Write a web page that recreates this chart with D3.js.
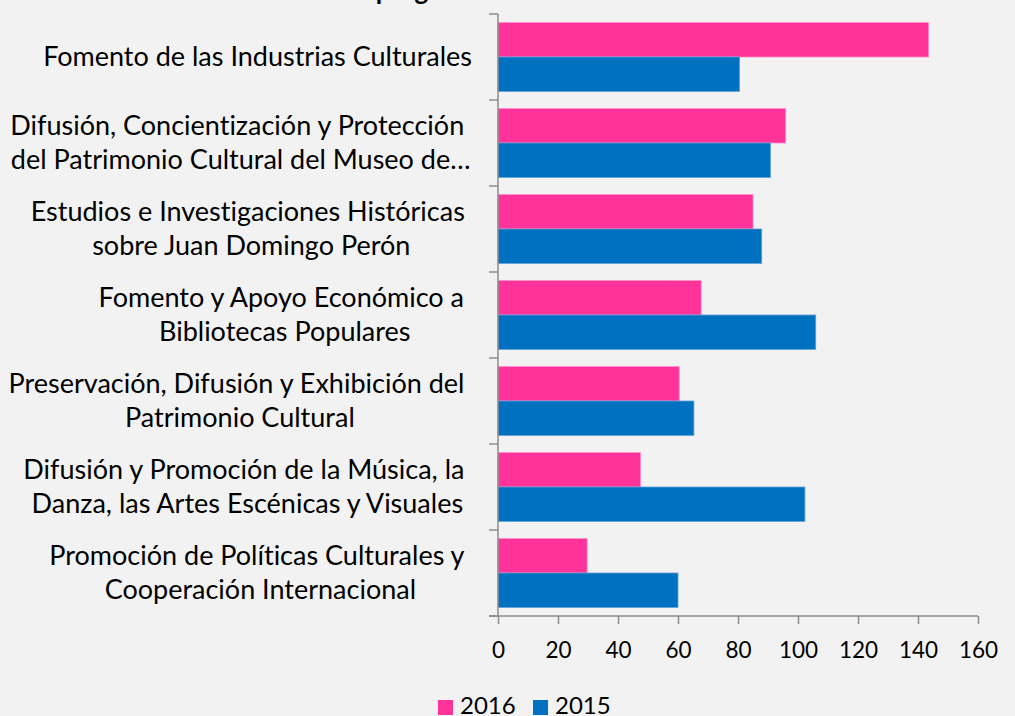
<!DOCTYPE html>
<html>
<head>
<meta charset="utf-8">
<script src="https://cdn.jsdelivr.net/npm/d3@7"></script>
<style>
  html, body { margin: 0; padding: 0; background: #f2f2f2; }
  svg { display: block; font-family: Lato, "Open Sans", sans-serif; font-variant-ligatures: none; }
</style>
</head>
<body>
<div id="graf"></div>
<script>
// datos
const categorias = [
  ["Fomento de las Industrias Culturales"],
  ["Difusión, Concientización y Protección", "del Patrimonio Cultural del Museo de…"],
  ["Estudios e Investigaciones Históricas", "sobre Juan Domingo Perón"],
  ["Fomento y Apoyo Económico a", "Bibliotecas Populares"],
  ["Preservación, Difusión y Exhibición del", "Patrimonio Cultural"],
  ["Difusión y Promoción de la Música, la", "Danza, las Artes Escénicas y Visuales"],
  ["Promoción de Políticas Culturales y", "Cooperación Internacional"],
]
const valores2016 = [143.5, 95.9, 85.0, 67.7, 60.4, 47.5, 29.7]
const valores2015 = [80.5, 90.8, 87.9, 105.9, 65.3, 102.3, 60.0]
const series = ["2016", "2015"]
const colores = ["#ff3399", "#0070c0"]
const bordes = ["#ff8cc6", "#5e9fd6"]
const ticksX = [0, 20, 40, 60, 80, 100, 120, 140, 160]
const titulo = "Crédito de cada programa"

const anchoTotal = 1015
const altoTotal = 716
const margins = { top: 14, right: 37, bottom: 100, left: 498 }
const ancho = anchoTotal - margins.left - margins.right
const alto = altoTotal - margins.top - margins.bottom

const svg = d3.select("#graf")
  .append("svg")
  .attr("width", anchoTotal)
  .attr("height", altoTotal)

svg.append("rect")
  .attr("width", anchoTotal)
  .attr("height", altoTotal)
  .attr("fill", "#f2f2f2")

// titulo (cortado arriba en la imagen original)
svg.append("text")
  .attr("x", 486)
  .attr("y", 0)
  .attr("text-anchor", "end")
  .attr("font-size", 26)
  .attr("font-weight", "bold")
  .attr("fill", "#000")
  .text(titulo)

const g = svg.append("g")
  .attr("transform", `translate(${margins.left}, ${margins.top})`)

const datos = categorias.map((c, i) => ({ lineas: c, v: [valores2016[i], valores2015[i]] }))

// Escaladores
const x = d3.scaleLinear().domain([0, 160]).range([0, ancho])
const y = d3.scaleBand()
  .domain(d3.range(categorias.length))
  .range([0, alto])
  .paddingInner(0.2)
  .paddingOuter(0.1)
const ySerie = d3.scaleBand().domain(series).range([0, y.bandwidth()])

// barras
const grupos = g.selectAll("g.cat")
  .data(datos)
  .enter()
  .append("g")
  .attr("class", "cat")
  .attr("transform", (d, i) => `translate(0, ${y(i)})`)

grupos.selectAll("rect")
  .data((d) => d.v.map((v, j) => ({ serie: series[j], v: v, j: j })))
  .enter()
  .append("rect")
  .attr("x", 0)
  .attr("y", (d) => ySerie(d.serie))
  .attr("width", (d) => x(d.v))
  .attr("height", ySerie.bandwidth())
  .attr("fill", (d) => colores[d.j])
  .attr("stroke", (d) => bordes[d.j])
  .attr("stroke-width", 0.8)

// eje X
const colorEje = "#8c8c8c"
const xAxis = d3.axisBottom(x).tickValues(ticksX).tickSize(8).tickPadding(18)
const xAxisGroup = g.append("g")
  .attr("transform", `translate(0, ${alto})`)
  .call(xAxis)
xAxisGroup.select(".domain").attr("stroke", colorEje).attr("stroke-width", 1.5)
  .attr("d", `M-9,0H${ancho}`)
xAxisGroup.selectAll(".tick line").attr("stroke", colorEje).attr("stroke-width", 1.5)
xAxisGroup.selectAll(".tick text")
  .attr("fill", "#000")
  .attr("font-size", 22.5)
  .attr("font-family", "Lato, sans-serif")

// eje Y (lineas de separacion de categorias)
const paso = y.step()
const limites = d3.range(categorias.length + 1).map((i) => i * paso)
g.append("line")
  .attr("x1", 0).attr("x2", 0)
  .attr("y1", 0).attr("y2", alto)
  .attr("stroke", colorEje).attr("stroke-width", 1.5)
g.selectAll("line.lim")
  .data(limites)
  .enter()
  .append("line")
  .attr("class", "lim")
  .attr("x1", -9).attr("x2", 0)
  .attr("y1", (d) => d).attr("y2", (d) => d)
  .attr("stroke", colorEje).attr("stroke-width", 1.5)

// etiquetas de categorias: lineas centradas en un bloque alineado a la derecha
const fuente = 27
const ctx = document.createElement("canvas").getContext("2d")
ctx.font = `${fuente}px Lato`
const interlinea = 35
const bordeDer = 472 - margins.left

grupos.each(function (d, i) {
  const anchoBloque = d3.max(d.lineas, (l, k) =>
    ctx.measureText(l + (k < d.lineas.length - 1 ? " " : "")).width)
  const centro = bordeDer - anchoBloque / 2
  const medio = y.bandwidth() / 2
  const n = d.lineas.length
  d3.select(this).selectAll("text.lbl")
    .data(d.lineas)
    .enter()
    .append("text")
    .attr("class", "lbl")
    .attr("x", (l, k) => centro + (k < n - 1 ? -ctx.measureText(" ").width / 2 : 0))
    .attr("y", (l, k) => medio + (k - (n - 1) / 2) * interlinea + 9)
    .attr("text-anchor", "middle")
    .attr("font-size", fuente)
    .attr("fill", "#000")
    .text((l) => l)
})

// leyenda
const leyenda = svg.append("g").attr("transform", "translate(438, 700)")
const itemLeyenda = leyenda.selectAll("g")
  .data(series)
  .enter()
  .append("g")
  .attr("transform", (d, i) => `translate(${i * 95}, 0)`)
itemLeyenda.append("rect")
  .attr("width", 15)
  .attr("height", 15)
  .attr("fill", (d, i) => colores[i])
itemLeyenda.append("text")
  .attr("x", 22)
  .attr("y", 14)
  .attr("font-size", 24)
  .attr("fill", "#000")
  .text((d) => d)
</script>
</body>
</html>
